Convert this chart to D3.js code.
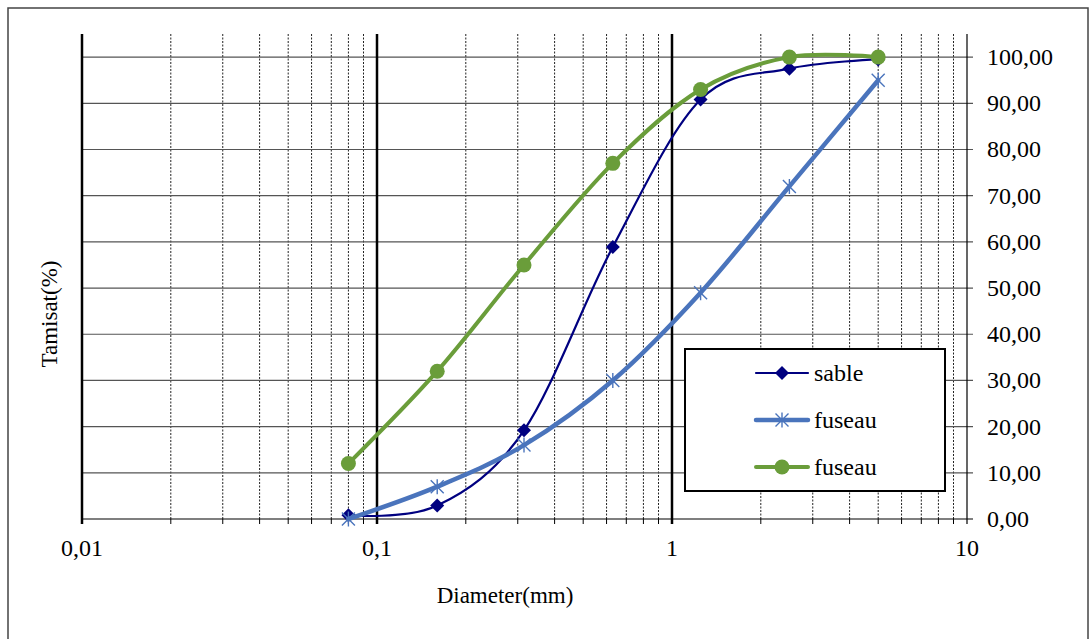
<!DOCTYPE html>
<html><head><meta charset="utf-8">
<script src="https://cdn.jsdelivr.net/npm/d3@7/dist/d3.min.js"></script>
<style>body{margin:0;background:#fff}svg{display:block}</style>
</head><body><svg id="c" width="1091" height="639"></svg>
<script>
const diameters = [0.08, 0.16, 0.315, 0.63, 1.25, 2.5, 5];
const sable = [0.8, 2.9, 19.2, 58.9, 90.8, 97.5, 99.5];
const fuseauLow = [0, 7, 16, 30, 49, 72, 95];
const fuseauHigh = [12, 32, 55, 77, 93, 100, 100];
const xTickLabels = ["0,01", "0,1", "1", "10"];
const yTicks = [0,10,20,30,40,50,60,70,80,90,100];
const seriesNames = ["sable", "fuseau", "fuseau"];

const FONT = "Liberation Serif";
const svg = d3.select("#c");
const L = 82, R = 967, T = 34, B = 519;
const x = d3.scaleLog().domain([0.01, 10]).range([L, R]);
const y = d3.scaleLinear().domain([0, 105]).range([B, T]);

function txt(sel, size) {
  return sel.attr("font-family", FONT).attr("font-size", size).attr("fill", "#000");
}

svg.append("rect").attr("x", 8).attr("y", 8).attr("width", 1080).attr("height", 640)
  .attr("fill", "none").attr("stroke", "#444").attr("stroke-width", 1.5);

const minor = [];
[0.01, 0.1, 1].forEach(d => { for (let k = 2; k <= 9; k++) minor.push(d * k); });
svg.append("g").selectAll("line").data(minor).join("line")
  .attr("x1", d => x(d)).attr("x2", d => x(d)).attr("y1", T).attr("y2", B)
  .attr("stroke", "#222").attr("stroke-width", 1).attr("stroke-dasharray", "2,1.5");
svg.append("g").selectAll("line").data(minor).join("line")
  .attr("x1", d => x(d)).attr("x2", d => x(d)).attr("y1", B).attr("y2", B + 5)
  .attr("stroke", "#000").attr("stroke-width", 1);

svg.append("g").selectAll("line").data(yTicks).join("line")
  .attr("x1", L).attr("x2", R + 6).attr("y1", d => y(d)).attr("y2", d => y(d))
  .attr("stroke", d => d === 0 ? "#000" : "#555").attr("stroke-width", 1.2);

const majors = [0.01, 0.1, 1];
svg.append("g").selectAll("line").data(majors).join("line")
  .attr("x1", d => x(d)).attr("x2", d => x(d)).attr("y1", T).attr("y2", B + 5)
  .attr("stroke", "#000").attr("stroke-width", 2.5);
svg.append("line").attr("x1", x(10)).attr("x2", x(10)).attr("y1", T).attr("y2", B + 5)
  .attr("stroke", "#000").attr("stroke-width", 1.2);

txt(svg.append("g").selectAll("text").data(yTicks).join("text")
  .attr("x", 987).attr("y", d => y(d) + 8)
  .text(d => d3.format(".2f")(d).replace(".", ",")), 24);

txt(svg.append("g").selectAll("text").data([0.01, 0.1, 1, 10]).join("text")
  .attr("x", d => x(d)).attr("y", 556).attr("text-anchor", "middle")
  .text((d, i) => xTickLabels[i]), 24);

txt(svg.append("text").attr("x", 505).attr("y", 603).attr("text-anchor", "middle")
  .text("Diameter(mm)"), 23);
txt(svg.append("text").attr("transform", "translate(57,314) rotate(-90)").attr("text-anchor", "middle")
  .text("Tamisat(%)"), 23);

const line = d3.line().x(d => x(d[0])).y(d => y(d[1])).curve(d3.curveCardinal.tension(0));

const series = [
  {vals: sable, color: "#000080", width: 2.2, marker: "diamond"},
  {vals: fuseauLow, color: "#4A74BC", width: 4.5, marker: "star"},
  {vals: fuseauHigh, color: "#6A9D3A", width: 4, marker: "circle"}
];

function drawMarker(g, type, color) {
  if (type === "circle") g.append("circle").attr("r", 7.5).attr("fill", color);
  else if (type === "diamond") g.append("path").attr("d", "M0,-7L7,0L0,7L-7,0Z").attr("fill", color);
  else g.append("path").attr("d", "M-6.5,-6.5L6.5,6.5M-6.5,6.5L6.5,-6.5M0,-7.5L0,7.5").attr("stroke", color).attr("stroke-width", 1.4).attr("fill", "none");
}

series.forEach(s => {
  const pts = diameters.map((d, i) => [d, s.vals[i]]);
  svg.append("path").datum(pts).attr("d", line).attr("fill", "none")
    .attr("stroke", s.color).attr("stroke-width", s.width).attr("stroke-linecap", "round");
  pts.forEach(p => {
    const g = svg.append("g").attr("transform", `translate(${x(p[0])},${y(p[1])})`);
    drawMarker(g, s.marker, s.color);
  });
});

const lg = svg.append("g");
lg.append("rect").attr("x", 685).attr("y", 349).attr("width", 260).attr("height", 142)
  .attr("fill", "#fff").attr("stroke", "#000").attr("stroke-width", 2);
series.forEach((s, i) => {
  const yy = 373 + i * 47;
  lg.append("line").attr("x1", 756).attr("x2", 808).attr("y1", yy).attr("y2", yy)
    .attr("stroke", s.color).attr("stroke-width", s.width).attr("stroke-linecap", "round");
  const g = lg.append("g").attr("transform", `translate(782,${yy})`);
  drawMarker(g, s.marker, s.color);
  txt(lg.append("text").attr("x", 814).attr("y", yy + 8).text(seriesNames[i]), 24);
});
</script></body></html>
